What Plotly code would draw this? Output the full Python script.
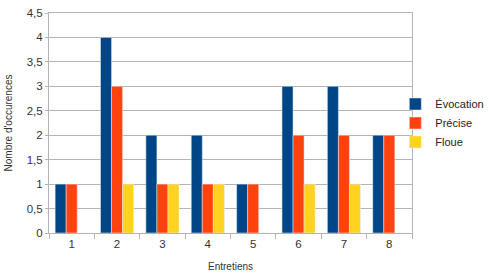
import plotly.graph_objects as go

categories = ["1", "2", "3", "4", "5", "6", "7", "8"]
evocation = [1, 4, 2, 2, 1, 3, 3, 2]
precise = [1, 3, 1, 1, 1, 2, 2, 2]
floue = [0, 1, 1, 1, 0, 1, 1, 0]
y_ticks = [0, 0.5, 1, 1.5, 2, 2.5, 3, 3.5, 4, 4.5]

fig = go.Figure()
fig.add_trace(go.Bar(x=categories, y=evocation, name="Évocation", marker_color="#004586"))
fig.add_trace(go.Bar(x=categories, y=precise, name="Précise", marker_color="#ff420e"))
fig.add_trace(go.Bar(x=categories, y=floue, name="Floue", marker_color="#ffd320"))

fig.update_layout(
    width=489, height=273,
    margin=dict(l=49, r=77, t=13, b=40, autoexpand=False),
    barmode="group", bargap=0.27, bargroupgap=0,
    separators=", ",
    plot_bgcolor="white", paper_bgcolor="white",
    font=dict(family="Liberation Sans, Arial, sans-serif", size=11.5, color="#333333"),
    legend=dict(x=1.213, y=0.5, xanchor="right", yanchor="middle",
                font=dict(size=11, color="#222222"), itemwidth=30,
                tracegroupgap=0, bgcolor="rgba(0,0,0,0)", borderwidth=0),
    showlegend=True,
)
fig.update_xaxes(
    type="category",
    title=dict(text="Entretiens", font=dict(size=10), standoff=14),
    showline=True, linecolor="#b3b3b3", mirror=True,
    ticks="outside", tickson="boundaries", ticklen=5, tickcolor="#b3b3b3",
    showgrid=False,
)
fig.update_yaxes(
    range=[0, 4.5], tickvals=y_ticks,
    title=dict(text="Nombre d'occurences", font=dict(size=10), standoff=12),
    showline=True, linecolor="#b3b3b3", mirror=True,
    gridcolor="#b3b3b3", gridwidth=1,
    ticks="outside", ticklen=3, tickcolor="#b3b3b3",
    zeroline=False,
)

fig.write_html("out.html")
